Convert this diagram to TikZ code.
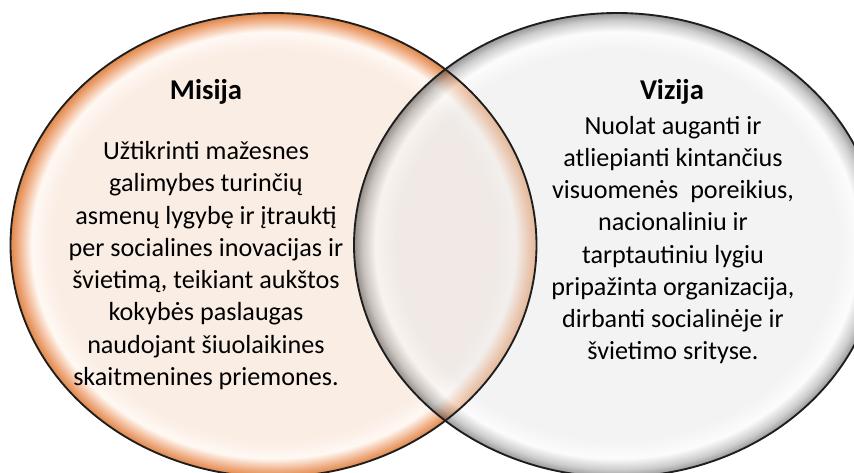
\documentclass[tikz,border=0pt]{standalone}
\usepackage{fontspec}
\setmainfont{Carlito}
\definecolor{peach}{HTML}{FAEDE4}
\definecolor{peachhi}{HTML}{FFF8F3}
\definecolor{orl}{HTML}{F0B088}
\definecolor{ord}{HTML}{DF8648}
\definecolor{grc}{HTML}{E7E7E7}
\definecolor{grhi}{HTML}{F9F9F9}
\definecolor{grl}{HTML}{9A9A9A}
\definecolor{grd}{HTML}{303030}
\definecolor{edge}{HTML}{1E1E1E}
\pgfdeclareradialshading{misijash}{\pgfpoint{0bp}{0bp}}{color(0bp)=(peach); color(21bp)=(peach); color(23bp)=(peachhi); color(24.2bp)=(orl); color(25bp)=(ord); color(50bp)=(ord)}
\pgfdeclareradialshading{vizijash}{\pgfpoint{0bp}{0bp}}{color(0bp)=(grc); color(21bp)=(grc); color(23bp)=(grhi); color(24.2bp)=(grl); color(25bp)=(grd); color(50bp)=(grd)}
\tikzset{
  outline/.style={draw=edge, line width=1.4pt},
  title/.style={font=\fontsize{21.5}{24}\selectfont\bfseries, inner sep=0pt, anchor=base},
  body/.style={font=\fontsize{19.6}{24.2}\selectfont, align=center, inner sep=0pt}
}
\begin{document}
\begin{tikzpicture}[x=0.75pt, y=-0.75pt]
\useasboundingbox (0,0) rectangle (854,472);
\clip (0,0) rectangle (854,472);
\coordinate (lc) at (273.5,245);
\coordinate (rc) at (617,245);
\path[shading=misijash] (lc) ellipse [x radius=197.25pt, y radius=174pt];
\path[shading=vizijash, fill opacity=0.5] (rc) ellipse [x radius=197.25pt, y radius=174pt];
\path[outline] (lc) ellipse [x radius=197.25pt, y radius=174pt];
\path[outline] (rc) ellipse [x radius=197.25pt, y radius=174pt];
\node[title] (mt) at (206,99) {Misija};
\node[title] (vt) at (672,99) {Vizija};
\node[body] (mb) at (206,265.5) {Užtikrinti mažesnes\\galimybes turinčių\\asmenų lygybę ir įtrauktį\\per socialines inovacijas ir\\švietimą, teikiant aukštos\\kokybės paslaugas\\naudojant šiuolaikines\\skaitmenines priemones.};
\node[body] (vb) at (673,240) {Nuolat auganti ir\\atliepianti kintančius\\visuomenės\ \ poreikius,\\nacionaliniu ir\\tarptautiniu lygiu\\pripažinta organizacija,\\dirbanti socialinėje ir\\švietimo srityse.};
\end{tikzpicture}
\end{document}
